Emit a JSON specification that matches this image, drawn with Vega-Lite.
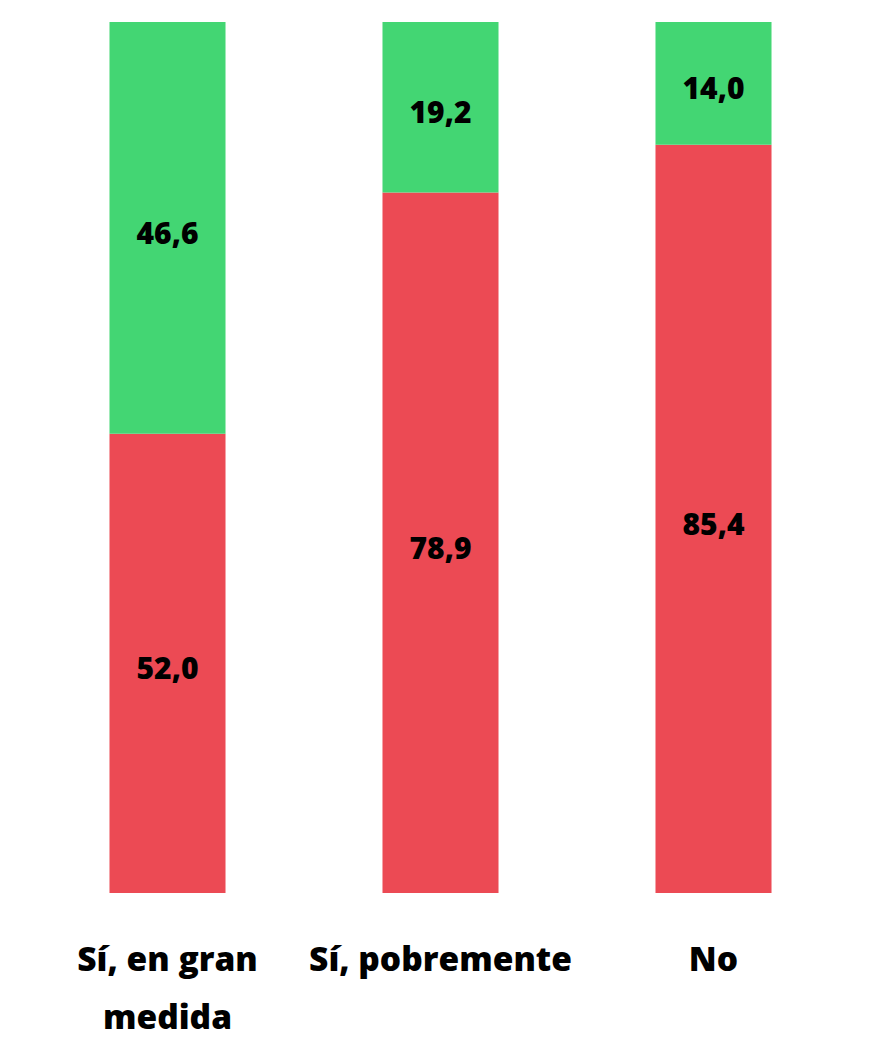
{
  "$schema": "https://vega.github.io/schema/vega-lite/v6.json",
  "width": 819,
  "height": 871,
  "autosize": "none",
  "padding": {"left": 31, "top": 22, "right": 32, "bottom": 151},
  "background": "white",
  "config": {"view": {"stroke": null}, "font": "Open Sans"},
  "data": {"values": [
    {"cat": "Sí, en gran medida", "serie": "a", "value": 52.0, "label": "52,0"},
    {"cat": "Sí, en gran medida", "serie": "b", "value": 46.6, "label": "46,6"},
    {"cat": "Sí, pobremente", "serie": "a", "value": 78.9, "label": "78,9"},
    {"cat": "Sí, pobremente", "serie": "b", "value": 19.2, "label": "19,2"},
    {"cat": "No", "serie": "a", "value": 85.4, "label": "85,4"},
    {"cat": "No", "serie": "b", "value": 14.0, "label": "14,0"}
  ]},
  "encoding": {
    "x": {"field": "cat", "type": "nominal", "sort": null,
      "scale": {"paddingInner": 0.575, "paddingOuter": 0.2875},
      "axis": {"title": null, "domain": false, "ticks": false, "labelAngle": 0,
        "labelFont": "Open Sans", "labelFontWeight": 800, "labelFontSize": 33.5, "labelColor": "#000",
        "labelPadding": 67, "labelLineHeight": 58, "labelBaseline": "middle", "labelLimit": 0,
        "labelExpr": "datum.label == 'Sí, en gran medida' ? ['Sí, en gran', 'medida'] : datum.label"}},
    "y": {"field": "value", "type": "quantitative", "stack": "normalize", "axis": null},
    "order": {"field": "serie"}
  },
  "layer": [
    {"mark": {"type": "bar"},
      "encoding": {"color": {"field": "serie", "type": "nominal", "legend": null,
        "scale": {"domain": ["a", "b"], "range": ["#EC4A54", "#43D673"]}}}},
    {"mark": {"type": "text", "font": "Open Sans", "fontWeight": 800, "fontSize": 30, "color": "#000", "dy": 7},
      "encoding": {"y": {"field": "value", "type": "quantitative", "stack": "normalize", "bandPosition": 0.5},
        "text": {"field": "label"}}}
  ]
}
